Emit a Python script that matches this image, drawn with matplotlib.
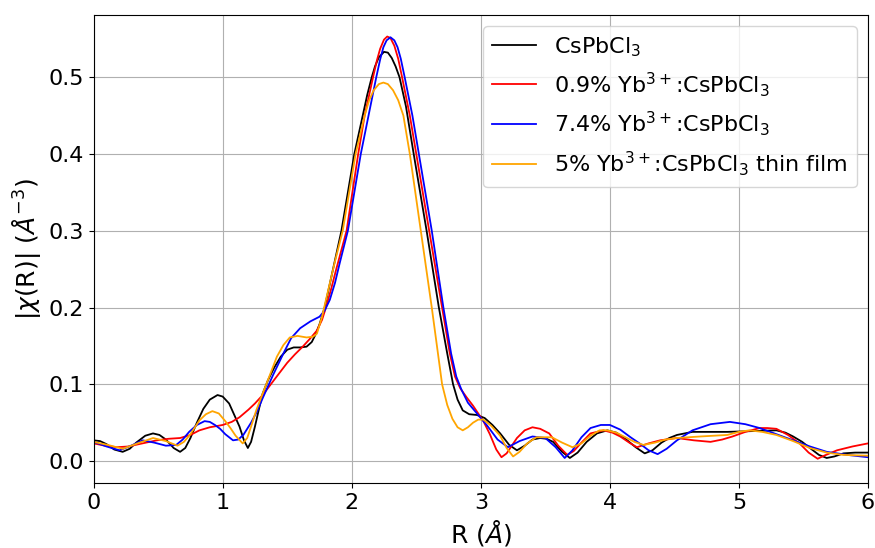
import numpy as np
import matplotlib.pyplot as plt

# CsPbCl3
r_black = [0.0, 0.05, 0.1, 0.16, 0.225, 0.28, 0.33, 0.40, 0.46, 0.51, 0.56, 0.62, 0.67, 0.71,
           0.75, 0.80, 0.85, 0.90, 0.96, 1.00, 1.05, 1.09, 1.13, 1.165, 1.195, 1.22, 1.25, 1.28,
           1.31, 1.35, 1.40, 1.45, 1.50, 1.55, 1.60, 1.65, 1.69, 1.72, 1.75, 1.79, 1.855, 1.92,
           2.02, 2.085, 2.12, 2.155, 2.18, 2.21, 2.25, 2.28, 2.31, 2.34, 2.37, 2.42, 2.48, 2.58,
           2.675, 2.74, 2.785, 2.82, 2.86, 2.91, 2.97, 3.03, 3.09, 3.15, 3.22, 3.28, 3.34, 3.40,
           3.46, 3.51, 3.56, 3.63, 3.69, 3.75, 3.82, 3.90, 3.98, 4.05, 4.12, 4.20, 4.27, 4.33,
           4.40, 4.46, 4.52, 4.64, 4.78, 4.91, 5.10, 5.29, 5.36, 5.42, 5.49, 5.55, 5.62, 5.68,
           5.74, 5.81, 5.90, 6.0]
chi_black = [0.027, 0.026, 0.022, 0.015, 0.012, 0.016, 0.024, 0.033, 0.036, 0.034, 0.028, 0.017,
             0.012, 0.017, 0.030, 0.050, 0.068, 0.080, 0.086, 0.084, 0.075, 0.060, 0.045, 0.027,
             0.017, 0.025, 0.045, 0.067, 0.088, 0.105, 0.122, 0.136, 0.145, 0.148, 0.148, 0.149,
             0.155, 0.165, 0.178, 0.200, 0.250, 0.300, 0.400, 0.450, 0.477, 0.500, 0.514, 0.526,
             0.533, 0.532, 0.525, 0.514, 0.500, 0.462, 0.400, 0.300, 0.200, 0.140, 0.100, 0.080,
             0.066, 0.061, 0.060, 0.056, 0.047, 0.036, 0.021, 0.014, 0.020, 0.028, 0.030, 0.029,
             0.025, 0.012, 0.004, 0.011, 0.025, 0.036, 0.040, 0.037, 0.029, 0.018, 0.010, 0.014,
             0.024, 0.030, 0.034, 0.038, 0.038, 0.038, 0.039, 0.040, 0.037, 0.032, 0.025, 0.017,
             0.008, 0.004, 0.006, 0.010, 0.011, 0.011]

# 0.9% Yb
r_red = [0.0, 0.09, 0.18, 0.27, 0.35, 0.49, 0.58, 0.67, 0.75, 0.82, 0.90, 1.0, 1.07, 1.13, 1.20,
         1.25, 1.31, 1.40, 1.50, 1.56, 1.62, 1.68, 1.73, 1.77, 1.80, 1.84, 1.88, 1.96, 2.05, 2.10,
         2.165, 2.195, 2.22, 2.25, 2.275, 2.30, 2.33, 2.36, 2.39, 2.45, 2.50, 2.60, 2.70, 2.76,
         2.80, 2.84, 2.89, 2.94, 2.98, 3.02, 3.07, 3.12, 3.16, 3.20, 3.24, 3.28, 3.34, 3.40, 3.46,
         3.53, 3.60, 3.67, 3.72, 3.78, 3.85, 3.95, 4.02, 4.08, 4.15, 4.21, 4.30, 4.39, 4.52, 4.65,
         4.78, 4.87, 4.95, 5.05, 5.16, 5.22, 5.29, 5.38, 5.47, 5.54, 5.61, 5.66, 5.76, 5.88, 6.0]
chi_red = [0.023, 0.020, 0.018, 0.019, 0.022, 0.027, 0.029, 0.030, 0.034, 0.040, 0.044, 0.047,
           0.051, 0.057, 0.067, 0.075, 0.086, 0.106, 0.128, 0.139, 0.149, 0.160, 0.170, 0.184,
           0.200, 0.224, 0.250, 0.300, 0.400, 0.450, 0.500, 0.522, 0.537, 0.549, 0.553, 0.551,
           0.541, 0.524, 0.500, 0.450, 0.400, 0.300, 0.200, 0.140, 0.110, 0.095, 0.083, 0.072,
           0.062, 0.052, 0.035, 0.015, 0.005, 0.010, 0.020, 0.030, 0.040, 0.044, 0.042, 0.036,
           0.020, 0.008, 0.013, 0.024, 0.036, 0.040, 0.037, 0.032, 0.024, 0.018, 0.023, 0.027,
           0.030, 0.027, 0.025, 0.028, 0.032, 0.038, 0.043, 0.043, 0.042, 0.034, 0.023, 0.011,
           0.003, 0.007, 0.014, 0.019, 0.023]

# 7.4% Yb
r_blue = [0.0, 0.1, 0.20, 0.29, 0.38, 0.47, 0.56, 0.64, 0.69, 0.74, 0.80, 0.86, 0.90, 0.94, 0.98,
          1.02, 1.08, 1.12, 1.16, 1.22, 1.27, 1.31, 1.39, 1.47, 1.53, 1.60, 1.68, 1.75, 1.79,
          1.83, 1.87, 1.907, 1.97, 2.07, 2.13, 2.19, 2.22, 2.245, 2.27, 2.30, 2.33, 2.355, 2.38,
          2.41, 2.47, 2.52, 2.62, 2.71, 2.77, 2.81, 2.85, 2.90, 2.98, 3.05, 3.13, 3.21, 3.30,
          3.40, 3.50, 3.58, 3.65, 3.71, 3.78, 3.85, 3.93, 4.0, 4.08, 4.16, 4.23, 4.30, 4.37, 4.44,
          4.52, 4.64, 4.78, 4.93, 5.05, 5.16, 5.29, 5.42, 5.55, 5.68, 5.84, 6.0]
chi_blue = [0.025, 0.019, 0.014, 0.020, 0.027, 0.024, 0.020, 0.021, 0.028, 0.038, 0.047, 0.052,
            0.051, 0.047, 0.042, 0.035, 0.027, 0.028, 0.034, 0.050, 0.066, 0.082, 0.112, 0.140,
            0.160, 0.173, 0.182, 0.188, 0.196, 0.210, 0.232, 0.258, 0.300, 0.400, 0.450, 0.500,
            0.523, 0.539, 0.548, 0.552, 0.548, 0.539, 0.524, 0.500, 0.450, 0.400, 0.300, 0.200,
            0.140, 0.110, 0.093, 0.076, 0.060, 0.046, 0.028, 0.018, 0.026, 0.032, 0.030, 0.018,
            0.004, 0.014, 0.031, 0.043, 0.047, 0.047, 0.041, 0.031, 0.023, 0.014, 0.009, 0.016,
            0.027, 0.040, 0.048, 0.051, 0.048, 0.043, 0.035, 0.027, 0.019, 0.012, 0.008, 0.005]

# 5% Yb thin film
r_orange = [0.0, 0.11, 0.225, 0.34, 0.46, 0.56, 0.65, 0.70, 0.75, 0.82, 0.87, 0.92, 0.97, 1.02,
            1.06, 1.10, 1.155, 1.19, 1.22, 1.26, 1.31, 1.37, 1.42, 1.47, 1.52, 1.58, 1.65, 1.70,
            1.73, 1.77, 1.80, 1.87, 1.93, 2.03, 2.10, 2.135, 2.17, 2.21, 2.245, 2.28, 2.32, 2.36,
            2.40, 2.45, 2.535, 2.62, 2.70, 2.74, 2.78, 2.82, 2.86, 2.90, 2.94, 2.98, 3.02, 3.08,
            3.15, 3.20, 3.25, 3.30, 3.36, 3.43, 3.55, 3.63, 3.71, 3.78, 3.85, 3.92, 3.98, 4.05,
            4.12, 4.19, 4.26, 4.35, 4.43, 4.52, 4.70, 4.91, 5.00, 5.08, 5.18, 5.29, 5.42, 5.55,
            5.68, 5.81, 6.0]
chi_orange = [0.025, 0.021, 0.016, 0.023, 0.030, 0.026, 0.020, 0.025, 0.035, 0.053, 0.061, 0.065,
              0.062, 0.052, 0.043, 0.033, 0.023, 0.030, 0.045, 0.066, 0.088, 0.114, 0.136, 0.151,
              0.161, 0.163, 0.161, 0.162, 0.166, 0.188, 0.210, 0.260, 0.300, 0.400, 0.450, 0.470,
              0.483, 0.491, 0.493, 0.491, 0.483, 0.470, 0.450, 0.400, 0.300, 0.200, 0.100, 0.073,
              0.055, 0.044, 0.040, 0.044, 0.050, 0.054, 0.054, 0.046, 0.033, 0.017, 0.006, 0.012,
              0.023, 0.031, 0.031, 0.024, 0.018, 0.023, 0.033, 0.040, 0.040, 0.037, 0.031, 0.025,
              0.021, 0.024, 0.028, 0.030, 0.032, 0.034, 0.038, 0.040, 0.038, 0.034, 0.026, 0.017,
              0.011, 0.008, 0.007]

labels = ['CsPbCl$_3$', '0.9% Yb$^{3+}$:CsPbCl$_3$', '7.4% Yb$^{3+}$:CsPbCl$_3$',
          '5% Yb$^{3+}$:CsPbCl$_3$ thin film']

fig = plt.figure(figsize=(8.75, 5.48), dpi=100)
ax = fig.add_axes([0.107, 0.1186, 0.885, 0.854])

ax.plot(r_black, chi_black, color='black', lw=1.3, label=labels[0])
ax.plot(r_red, chi_red, color='red', lw=1.3, label=labels[1])
ax.plot(r_blue, chi_blue, color='blue', lw=1.3, label=labels[2])
ax.plot(r_orange, chi_orange, color='orange', lw=1.3, label=labels[3])

ax.set_xlim(0, 6)
ax.set_ylim(-0.0286, 0.581)
ax.grid(True, color='#b0b0b0', lw=0.8)
ax.tick_params(labelsize=16)
ax.set_xlabel(r'R ($\AA$)', fontsize=18)
ax.set_ylabel(r'$|\chi$(R)| ($\AA^{-3}$)', fontsize=18)
ax.legend(loc='upper right', fontsize=16)

fig.savefig('out.png', dpi=100)
